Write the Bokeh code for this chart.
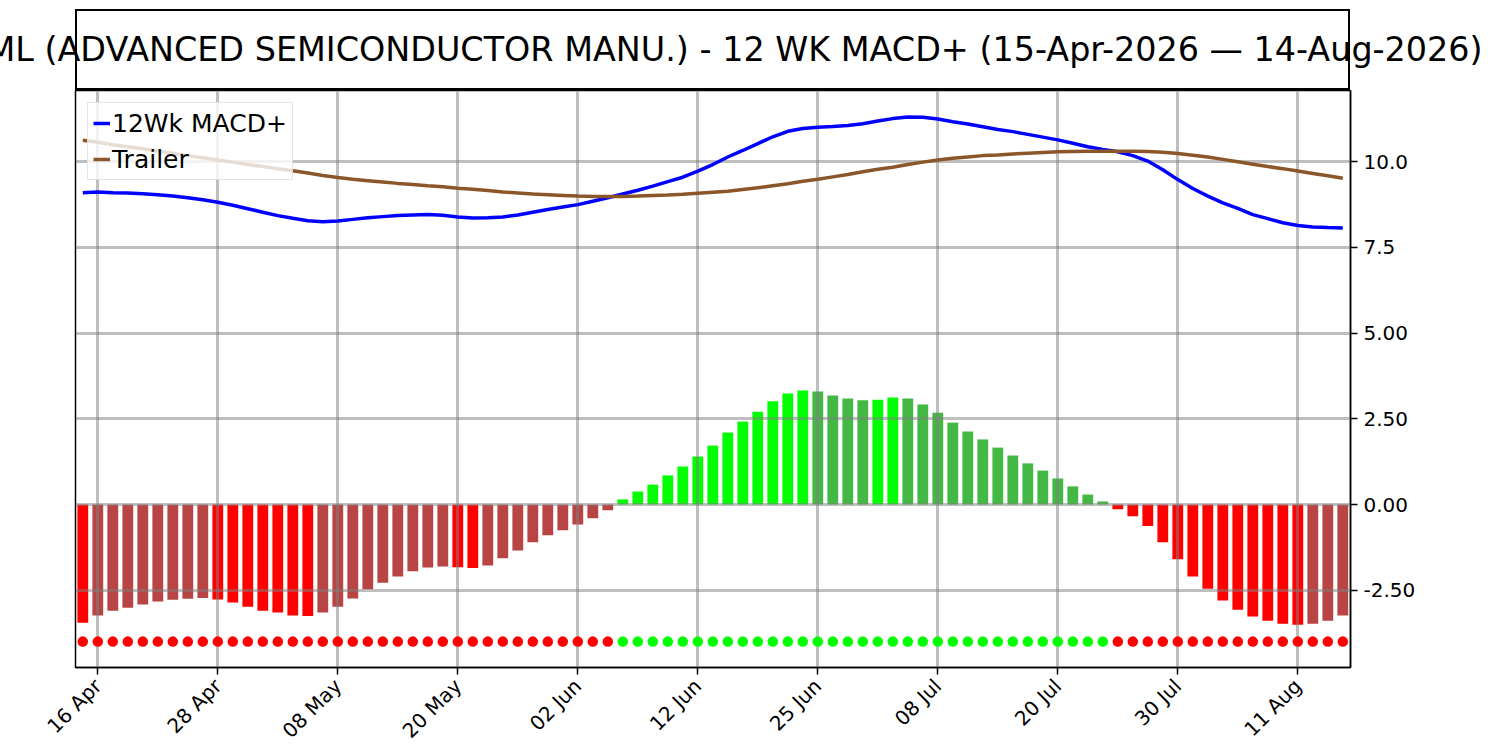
import numpy as np
from bokeh.plotting import figure
from bokeh.models import Range1d, FixedTicker, Legend, LegendItem, ColumnDataSource, Div
from bokeh.layouts import column
from bokeh.embed import file_html
from bokeh.resources import INLINE

title_text = "ASML (ADVANCED SEMICONDUCTOR MANU.) - 12 WK MACD+ (15-Apr-2026 \u2014 14-Aug-2026)"

tick_positions = [1, 9, 17, 25, 33, 41, 49, 57, 65, 73, 81]
tick_labels = ["16 Apr", "28 Apr", "08 May", "20 May", "02 Jun", "12 Jun",
               "25 Jun", "08 Jul", "20 Jul", "30 Jul", "11 Aug"]

y_ticks = [-2.5, 0, 2.5, 5, 7.5, 10]
y_tick_labels = ["-2.50", "0.00", "2.50", "5.00", "7.5", "10.0"]

macd = [9.10, 9.12, 9.10, 9.09, 9.07, 9.04, 9.00, 8.95, 8.89, 8.82,
        8.73, 8.63, 8.53, 8.43, 8.35, 8.28, 8.25, 8.27, 8.32, 8.37,
        8.40, 8.43, 8.45, 8.46, 8.44, 8.39, 8.36, 8.37, 8.39, 8.45,
        8.53, 8.61, 8.68, 8.75, 8.85, 8.95, 9.06, 9.17, 9.29, 9.42,
        9.55, 9.73, 9.92, 10.14, 10.33, 10.53, 10.73, 10.89, 10.97, 11.01,
        11.03, 11.06, 11.11, 11.19, 11.26, 11.31, 11.30, 11.25, 11.17, 11.10,
        11.02, 10.94, 10.88, 10.80, 10.72, 10.64, 10.54, 10.44, 10.36, 10.29,
        10.18, 10.02, 9.77, 9.48, 9.22, 9.00, 8.80, 8.64, 8.46, 8.34,
        8.22, 8.14, 8.10, 8.08, 8.07]

trailer = [10.63, 10.57, 10.50, 10.44, 10.38, 10.31, 10.25, 10.18, 10.12, 10.05,
           9.99, 9.92, 9.86, 9.80, 9.74, 9.67, 9.60, 9.54, 9.49, 9.45,
           9.41, 9.37, 9.34, 9.30, 9.27, 9.23, 9.20, 9.16, 9.12, 9.09,
           9.06, 9.04, 9.02, 9.00, 8.99, 8.99, 8.99, 9.00, 9.02, 9.03,
           9.05, 9.08, 9.11, 9.14, 9.19, 9.24, 9.30, 9.36, 9.43, 9.49,
           9.56, 9.63, 9.71, 9.78, 9.84, 9.92, 9.99, 10.05, 10.10, 10.14,
           10.18, 10.20, 10.23, 10.25, 10.27, 10.29, 10.30, 10.31, 10.31, 10.31,
           10.31, 10.30, 10.28, 10.24, 10.19, 10.14, 10.07, 10.00, 9.93, 9.86,
           9.80, 9.73, 9.66, 9.59, 9.52]

hist = [-3.45, -3.24, -3.10, -3.01, -2.92, -2.83, -2.78, -2.75, -2.73, -2.77,
        -2.86, -2.98, -3.10, -3.15, -3.24, -3.25, -3.15, -2.98, -2.74, -2.47,
        -2.28, -2.10, -1.95, -1.84, -1.81, -1.83, -1.85, -1.78, -1.57, -1.34,
        -1.10, -0.90, -0.75, -0.58, -0.40, -0.17, 0.15, 0.38, 0.58, 0.85,
        1.11, 1.40, 1.72, 2.10, 2.42, 2.71, 3.01, 3.24, 3.33, 3.30,
        3.18, 3.09, 3.04, 3.06, 3.12, 3.09, 2.92, 2.68, 2.39, 2.13,
        1.90, 1.66, 1.43, 1.20, 0.99, 0.76, 0.53, 0.29, 0.09, -0.14,
        -0.34, -0.63, -1.10, -1.60, -2.10, -2.46, -2.80, -3.07, -3.27, -3.39,
        -3.48, -3.51, -3.48, -3.39, -3.24]

signal_row = -4.0

FONT = "DejaVu Sans"
RED, RED_DULL = "#ff0000", "#b84444"
GREEN, GREEN_DULL = "#00ff00", "#44b844"

idx = list(range(len(hist)))
bar_colors = []
for i, v in enumerate(hist):
    prev = hist[i - 1] if i > 0 else None
    if v < 0:
        bar_colors.append(RED if (prev is None or v < prev) else RED_DULL)
    else:
        bar_colors.append(GREEN if (prev is None or v > prev) else GREEN_DULL)
dot_colors = [RED if v < 0 else GREEN for v in hist]

bar_src = ColumnDataSource(dict(x=idx, top=hist, color=bar_colors))
dot_src = ColumnDataSource(dict(x=idx, y=[signal_row] * len(idx), color=dot_colors))

# ---- title strip: a bordered box with the (overflowing) title centred in it ----
title_html = (
    '<div style="position:relative;width:1500px;height:90px;overflow:visible;">'
    '<div style="position:absolute;left:75px;top:9px;width:1275px;height:81px;'
    'box-sizing:border-box;border:2px solid black;"></div>'
    '<div style="position:absolute;left:712.5px;top:49.5px;transform:translate(-50%,-50%);'
    "white-space:nowrap;font-family:'DejaVu Sans';font-size:33.4px;line-height:1;color:black;\">"
    + title_text + '</div></div>'
)
title_div = Div(text=title_html, width=1500, height=90, margin=0)

# ---- main plot ----
p = figure(frame_width=1275, frame_height=577,
           x_range=Range1d(-0.487, 84.513), y_range=Range1d(-4.755, 12.08),
           y_axis_location="right", toolbar_location=None, output_backend="svg",
           min_border_left=75, min_border_right=145, min_border_top=0, min_border_bottom=80)
p.outline_line_color = "black"
p.outline_line_width = 1.5

p.vbar(x="x", top="top", bottom=0, width=0.72, fill_color="color", line_color=None,
       source=bar_src, level="image")
p.scatter(x="x", y="y", size=10.5, fill_color="color", line_color=None, source=dot_src)
r1 = p.line(idx, macd, line_color="blue", line_width=3.5)
r2 = p.line(idx, trailer, line_color="#8b572a", line_width=3.5)

legend = Legend(items=[LegendItem(label="12Wk MACD+", renderers=[r1]),
                       LegendItem(label="Trailer", renderers=[r2])],
                location="top_left", margin=12, padding=5, spacing=6,
                label_height=30, glyph_height=30, glyph_width=17, label_standoff=2,
                label_text_font=FONT, label_text_font_size="25px", label_text_color="black",
                border_line_color="#cccccc", border_line_width=1,
                background_fill_color="white", background_fill_alpha=0.8)
p.add_layout(legend)

p.xaxis.ticker = FixedTicker(ticks=tick_positions)
p.xaxis.major_label_overrides = {pos: lab for pos, lab in zip(tick_positions, tick_labels)}
p.xaxis.major_label_orientation = np.pi / 4
p.yaxis.ticker = FixedTicker(ticks=y_ticks)
p.yaxis.major_label_overrides = {v: lab for v, lab in zip(y_ticks, y_tick_labels)}

for ax in (p.xaxis, p.yaxis):
    ax.major_label_text_font = FONT
    ax.major_label_text_font_size = "20px"
    ax.major_label_text_color = "black"
    ax.major_tick_out = 7
    ax.major_tick_in = 0
    ax.major_tick_line_color = "black"
    ax.major_tick_line_width = 1.5
    ax.minor_tick_line_color = None
    ax.axis_line_color = "black"
    ax.axis_line_width = 1.5
    ax.major_label_standoff = 6
p.xaxis.major_label_standoff = 8

p.grid.grid_line_color = "gray"
p.grid.grid_line_alpha = 0.5
p.grid.grid_line_width = 3

layout = column(title_div, p, spacing=0)
open("out.html", "w").write(file_html(layout, INLINE))
